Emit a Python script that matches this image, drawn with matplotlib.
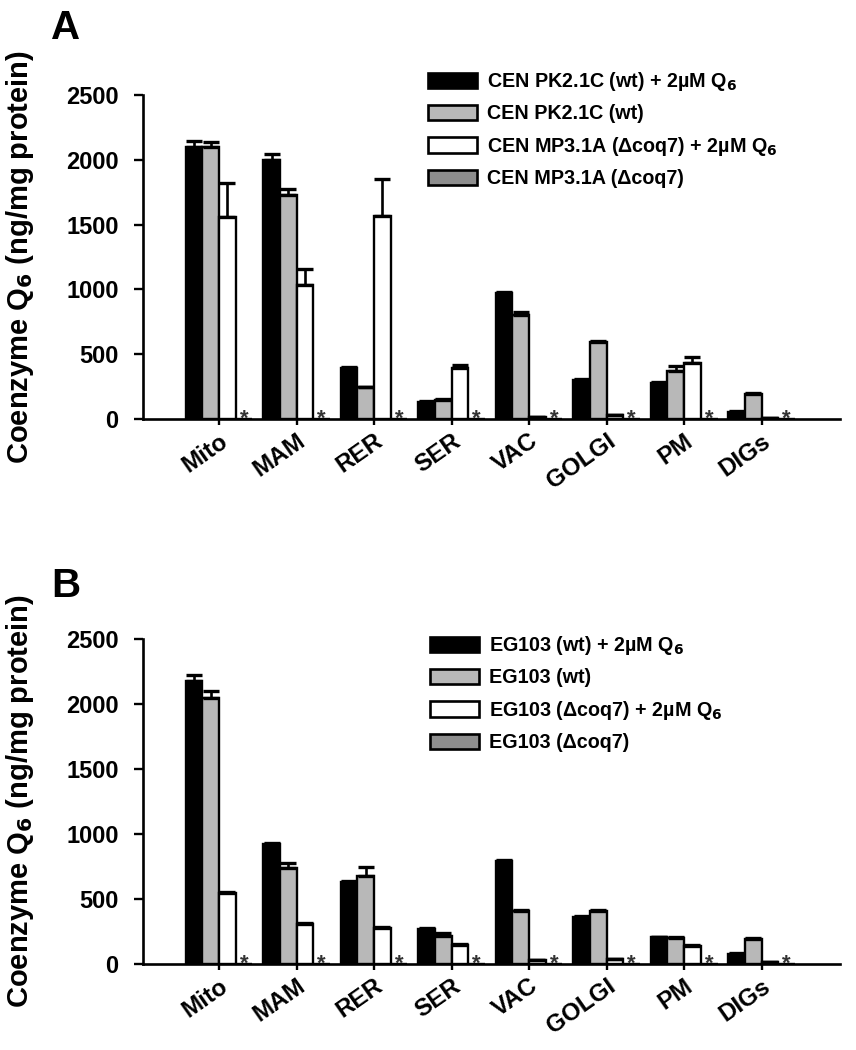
import numpy as np
import matplotlib
matplotlib.use("Agg")
import matplotlib.pyplot as plt
from matplotlib.patches import Patch

plt.rcParams['font.family'] = ['Liberation Sans', 'DejaVu Sans']
plt.rcParams['font.weight'] = 'bold'
plt.rcParams['mathtext.default'] = 'bf'

compartments = ['Mito', 'MAM', 'RER', 'SER', 'VAC', 'GOLGI', 'PM', 'DIGs']

# panel A: CEN strains
a_labels = ['CEN PK2.1C (wt) + 2\u00b5M Q$_6$', 'CEN PK2.1C (wt)',
            'CEN MP3.1A (\u0394coq7) + 2\u00b5M Q$_6$', 'CEN MP3.1A (\u0394coq7)']
a_wt_q6 = [2100, 2000, 390, 130, 970, 300, 275, 55]
a_wt_q6_err = [45, 45, 15, 10, 10, 10, 10, 5]
a_wt = [2100, 1730, 245, 150, 800, 595, 370, 190]
a_wt_err = [35, 45, 5, 5, 25, 10, 40, 10]
a_coq7_q6 = [1560, 1035, 1570, 390, 15, 30, 430, 5]
a_coq7_q6_err = [260, 120, 280, 25, 3, 3, 45, 2]
a_coq7 = [0, 0, 0, 0, 0, 0, 0, 0]

# panel B: EG103 strains
b_labels = ['EG103 (wt) + 2\u00b5M Q$_6$', 'EG103 (wt)',
            'EG103 (\u0394coq7) + 2\u00b5M Q$_6$', 'EG103 (\u0394coq7)']
b_wt_q6 = [2180, 920, 630, 270, 790, 360, 205, 80]
b_wt_q6_err = [45, 10, 10, 5, 10, 10, 5, 5]
b_wt = [2050, 740, 680, 215, 410, 410, 200, 190]
b_wt_err = [50, 40, 65, 20, 5, 5, 5, 10]
b_coq7_q6 = [545, 310, 280, 150, 30, 35, 140, 15]
b_coq7_q6_err = [10, 5, 5, 5, 3, 3, 5, 2]
b_coq7 = [0, 0, 0, 0, 0, 0, 0, 0]

colors = ['#000000', '#b8b8b8', '#ffffff', '#8e8e8e']
W, H = 856, 1050
fig = plt.figure(figsize=(W / 100, H / 100), dpi=100)


def panel(rect, series, errs, labels, letter, letter_y, leg_xy):
    ax = fig.add_axes(rect)
    x = np.arange(len(compartments))
    w = 0.215
    for i, (vals, col) in enumerate(zip(series, colors)):
        xs = x + (i - 1.5) * w
        ax.bar(xs, vals, width=w, color=col, edgecolor='black', linewidth=1.7, zorder=2)
        if errs[i] is not None:
            ax.errorbar(xs, vals, yerr=[np.zeros(len(vals)), errs[i]], fmt='none',
                        ecolor='black', elinewidth=1.9, capsize=5.5, capthick=2.4, zorder=3)
    # stars over the missing (delta coq7) bars
    for xi in x + 1.5 * w:
        ax.annotate('*', (xi, 0), xytext=(0, -7.5), textcoords='offset points',
                    ha='center', va='bottom', fontsize=16, fontweight='bold', color='#333333')
    ax.set_xlim(-0.98, 8.01)
    ax.set_ylim(0, 2500)
    ax.set_yticks([0, 500, 1000, 1500, 2000, 2500])
    ax.set_xticks(x)
    ax.set_xticklabels(compartments, rotation=35, ha='right', va='top',
                       rotation_mode='anchor', fontsize=17.5, fontweight='bold')
    for s in ['top', 'right']:
        ax.spines[s].set_visible(False)
    for s in ['left', 'bottom']:
        ax.spines[s].set_linewidth(1.9)
    ax.tick_params(axis='y', direction='out', length=6.5, width=1.7, pad=11, labelsize=17)
    ax.tick_params(axis='x', direction='out', length=4.5, width=1.7, pad=3)
    for t in ax.get_yticklabels():
        t.set_fontweight('bold')
    cy = rect[1] + rect[3] / 2
    fig.text(20 / W, cy, 'Coenzyme Q$_6$ (ng/mg protein)', rotation=90,
             ha='center', va='center', fontsize=21, fontweight='bold')
    fig.text(66 / W, 1 - letter_y / H, letter, ha='center', va='center',
             fontsize=29, fontweight='bold')
    handles = [Patch(facecolor=c, edgecolor='black', linewidth=1.9) for c in colors]
    ax.legend(handles, labels, loc='upper left',
              bbox_to_anchor=(leg_xy[0] / W, 1 - leg_xy[1] / H),
              bbox_transform=fig.transFigure, frameon=False, fontsize=14.2,
              handlelength=2.5, handleheight=0.8, handletextpad=0.5,
              labelspacing=0.58, borderpad=0, borderaxespad=0)
    return ax


panel([143 / W, 1 - 419 / H, 697 / W, 324 / H],
      [a_wt_q6, a_wt, a_coq7_q6, a_coq7],
      [a_wt_q6_err, a_wt_err, a_coq7_q6_err, None],
      a_labels, 'A', 28, (428, 70))
panel([143 / W, 1 - 964 / H, 697 / W, 325 / H],
      [b_wt_q6, b_wt, b_coq7_q6, b_coq7],
      [b_wt_q6_err, b_wt_err, b_coq7_q6_err, None],
      b_labels, 'B', 586, (430, 634))

fig.savefig('out.png', dpi=100)
